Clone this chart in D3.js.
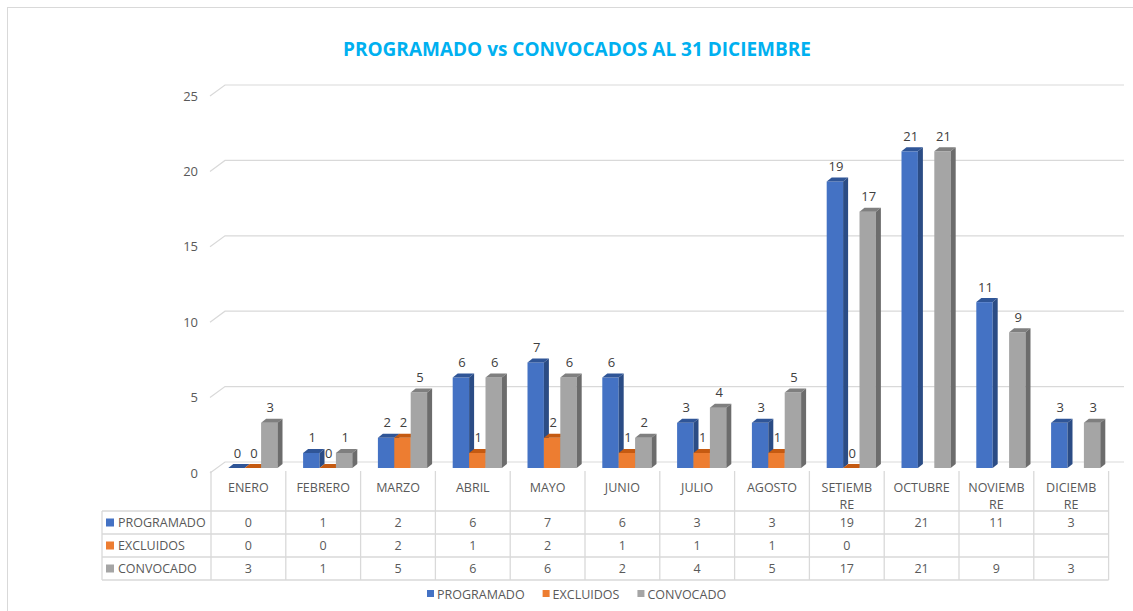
<!DOCTYPE html>
<html>
<head>
<meta charset="utf-8">
<script src="https://cdn.jsdelivr.net/npm/d3@7"></script>
<style>
  body { margin: 0; background: #fff; }
  text { font-family: "Open Sans", sans-serif; }
</style>
</head>
<body>
<script>
// data
const categories = ["ENERO", "FEBRERO", "MARZO", "ABRIL", "MAYO", "JUNIO", "JULIO", "AGOSTO", "SETIEMBRE", "OCTUBRE", "NOVIEMBRE", "DICIEMBRE"];
const seriesNames = ["PROGRAMADO", "EXCLUIDOS", "CONVOCADO"];
const programado = [0, 1, 2, 6, 7, 6, 3, 3, 19, 21, 11, 3];
const excluidos = [0, 0, 2, 1, 2, 1, 1, 1, 0, null, null, null];
const convocado = [3, 1, 5, 6, 6, 2, 4, 5, 17, 21, 9, 3];
const yTicks = [0, 5, 10, 15, 20, 25];

const seriesValues = [programado, excluidos, convocado];
const front = ["#4472c4", "#ed7d31", "#a5a5a5"];
const topC = ["#2f5597", "#c55a11", "#7f7f7f"];
const sideC = ["#2b4c85", "#ae5a21", "#6c6c6c"];

const svg = d3.select("body").append("svg")
    .attr("width", 1133)
    .attr("height", 611);

svg.append("rect")
    .attr("x", 7.5).attr("y", 7.5)
    .attr("width", 1300).attr("height", 800)
    .attr("fill", "#fff")
    .attr("stroke", "#d9d9d9");

// title
svg.append("text")
    .attr("x", 577).attr("y", 56)
    .attr("text-anchor", "middle")
    .style("font-size", "19px")
    .style("font-weight", "bold")
    .style("fill", "#00b0f0")
    .text("PROGRAMADO vs CONVOCADOS AL 31 DICIEMBRE");

//scales
const x = d3.scaleBand().domain(categories).range([211, 1108.6]);
const xs = d3.scaleBand().domain(seriesNames).range([0, 49.2]);
const y = d3.scaleLinear().domain([0, 25]).range([462, 85]);
const dx = 5, dy = 4;

// gridlines with the 3d diagonal
const grid = svg.append("g");
yTicks.forEach(t => {
    grid.append("path")
        .attr("d", `M210,${y(t) + 11}L225,${y(t)}L1124,${y(t)}`)
        .attr("fill", "none")
        .attr("stroke", "#d9d9d9")
        .attr("stroke-width", 1.2);
    grid.append("text")
        .attr("x", 198).attr("y", y(t) + 15.5)
        .attr("text-anchor", "end")
        .style("font-size", "13px")
        .style("fill", "#595959")
        .text(t);
});

// bars
const bars = svg.append("g");
const labels = [];
categories.forEach((c, i) => {
    seriesNames.forEach((s, k) => {
        const v = seriesValues[k][i];
        if (v === null) return;
        const bx = x(c) + 17.3 + xs(s);
        const w = xs.bandwidth();
        const yb = y(0) + 6;
        const yt = y(v) + 6;
        const g = bars.append("g");
        // front
        g.append("rect")
            .attr("x", bx).attr("y", yt)
            .attr("width", w).attr("height", yb - yt)
            .attr("fill", front[k]);
        // top
        g.append("path")
            .attr("d", `M${bx},${yt}L${bx + w},${yt}L${bx + w + dx},${yt - dy}L${bx + dx},${yt - dy}Z`)
            .attr("fill", topC[k]);
        // side
        g.append("path")
            .attr("d", `M${bx + w},${yt}L${bx + w + dx},${yt - dy}L${bx + w + dx},${yb - dy}L${bx + w},${yb}Z`)
            .attr("fill", sideC[k]);
        labels.push({ x: bx + w / 2 + 1, y: yt - 10.5, v: v });
    });
});

svg.append("g").selectAll("text")
    .data(labels)
    .join("text")
    .attr("x", d => d.x)
    .attr("y", d => d.y)
    .attr("text-anchor", "middle")
    .style("font-size", "13px")
    .style("fill", "#404040")
    .text(d => d.v);

// data table
const table = svg.append("g");
const lineC = "#d9d9d9";
const rowsY = [511, 534, 557, 580];
categories.forEach((c, i) => {
    table.append("line")
        .attr("x1", x(c)).attr("x2", x(c))
        .attr("y1", 471).attr("y2", 580)
        .attr("stroke", lineC).attr("stroke-width", 1.3);
});
table.append("line")
    .attr("x1", x.range()[1]).attr("x2", x.range()[1])
    .attr("y1", 471).attr("y2", 580)
    .attr("stroke", lineC).attr("stroke-width", 1.3);
table.append("line")
    .attr("x1", 102).attr("x2", 102)
    .attr("y1", 511).attr("y2", 580)
    .attr("stroke", lineC).attr("stroke-width", 1.3);
rowsY.forEach(ry => {
    table.append("line")
        .attr("x1", 102).attr("x2", x.range()[1])
        .attr("y1", ry).attr("y2", ry)
        .attr("stroke", lineC).attr("stroke-width", 1.3);
});

// category labels (wrap long names like excel does)
categories.forEach(c => {
    const parts = c.length > 7 ? [c.slice(0, 7), c.slice(7)] : [c];
    parts.forEach((p, j) => {
        table.append("text")
            .attr("x", x(c) + x.bandwidth() / 2)
            .attr("y", 492 + j * 17)
            .attr("text-anchor", "middle")
            .style("font-size", "12.5px")
            .style("fill", "#595959")
            .text(p);
    });
});

seriesNames.forEach((s, k) => {
    const cy = (rowsY[k] + rowsY[k + 1]) / 2;
    table.append("rect")
        .attr("x", 106).attr("y", cy - 4)
        .attr("width", 8).attr("height", 8)
        .attr("fill", front[k]);
    table.append("text")
        .attr("x", 118).attr("y", cy + 4.5)
        .style("font-size", "12.5px")
        .style("fill", "#595959")
        .text(s);
    categories.forEach((c, i) => {
        const v = seriesValues[k][i];
        if (v === null) return;
        table.append("text")
            .attr("x", x(c) + x.bandwidth() / 2)
            .attr("y", cy + 4.5)
            .attr("text-anchor", "middle")
            .style("font-size", "12.5px")
            .style("fill", "#595959")
            .text(v);
    });
});

// bottom legend
const legend = svg.append("g");
let lx = 427;
seriesNames.forEach((s, k) => {
    legend.append("rect")
        .attr("x", lx).attr("y", 590)
        .attr("width", 7).attr("height", 7)
        .attr("fill", front[k]);
    const t = legend.append("text")
        .attr("x", lx + 10).attr("y", 598.5)
        .style("font-size", "12.5px")
        .style("fill", "#595959")
        .text(s);
    lx += 10 + t.node().getComputedTextLength() + 18;
});
</script>
</body>
</html>
